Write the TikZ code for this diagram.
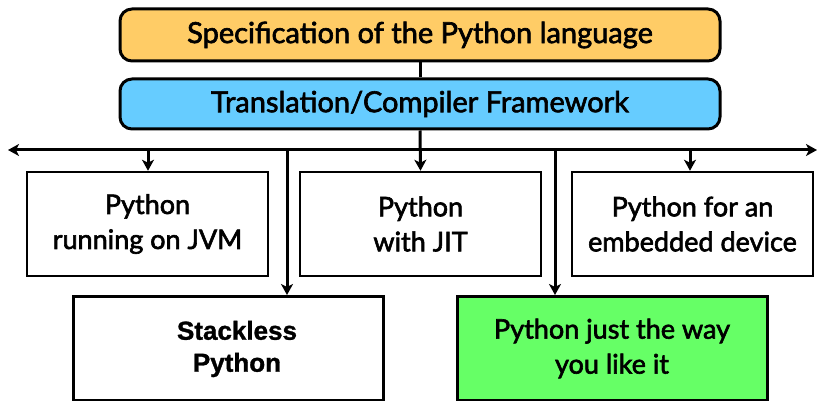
\documentclass[tikz,border=0pt]{standalone}
\usepackage{fontspec}
\setmainfont{Lato}
\newfontfamily\gillish{Lato}[FakeBold=2.2]
\newfontfamily\arialfont{Liberation Sans}[FakeBold=1.2]
\usetikzlibrary{arrows.meta}
\definecolor{specorange}{HTML}{FFCC66}
\definecolor{fwblue}{HTML}{66CCFF}
\definecolor{likegreen}{HTML}{66FF66}
\tikzset{
  topbox/.style={draw=black, line width=3pt, rounded corners=12pt, minimum width=600pt, minimum height=52pt, inner sep=0pt, font=\gillish\fontsize{29}{30}\selectfont},
  impbox/.style={draw=black, line width=2.5pt, fill=white, minimum width=241pt, minimum height=104pt, inner sep=0pt, align=center, font=\gillish\fontsize{27}{35}\selectfont},
  lowbox/.style={draw=black, line width=3pt, fill=white, minimum width=310pt, minimum height=104pt, inner sep=0pt, align=center, font=\gillish\fontsize{27}{35}\selectfont},
  conn/.style={line width=3pt},
  arr/.style={line width=3pt, -{Stealth[length=11pt, width=12pt, inset=3pt]}},
}
\begin{document}
\begin{tikzpicture}[x=1pt, y=-1pt]
\useasboundingbox (0,0) rectangle (823,401);
\node[topbox, fill=specorange] (spec) at (420,35) {Specification of the Python language};
\node[topbox, fill=fwblue, minimum height=50pt] (fw) at (420,104) {Translation/Compiler Framework};
\node[impbox] (jvm) at (147.5,224) {Python\\running on JVM};
\node[impbox] (jit) at (420.5,224) {Python\\with JIT};
\node[impbox] (emb) at (692.5,224) {Python for an\\embedded device};
\node[lowbox] (stk) at (228,348.5) {};
\node[font=\arialfont\bfseries\fontsize{26}{32}\selectfont, align=center] (stktext) at (237,349) {Stackless\\Python};
\node[lowbox, fill=likegreen] (grn) at (612,348.5) {Python just the way\\you like it};
\coordinate (L) at (8,150);
\coordinate (R) at (817,150);
\coordinate (a1) at (148,150);
\coordinate (a2) at (287,150);
\coordinate (a3) at (555,150);
\coordinate (a4) at (690,150);
\draw[conn] (spec) -- (fw);
\draw[line width=3pt, {Stealth[length=11pt, width=12pt, inset=3pt]}-{Stealth[length=11pt, width=12pt, inset=3pt]}] (L) -- (R);
\draw[arr] (fw.south) -- (jit.north);
\draw[arr] (a1) -- (a1 |- jvm.north);
\draw[arr] (a4) -- (a4 |- emb.north);
\draw[arr] (a2) -- (a2 |- stk.north);
\draw[arr] (a3) -- (a3 |- grn.north);
\end{tikzpicture}
\end{document}
